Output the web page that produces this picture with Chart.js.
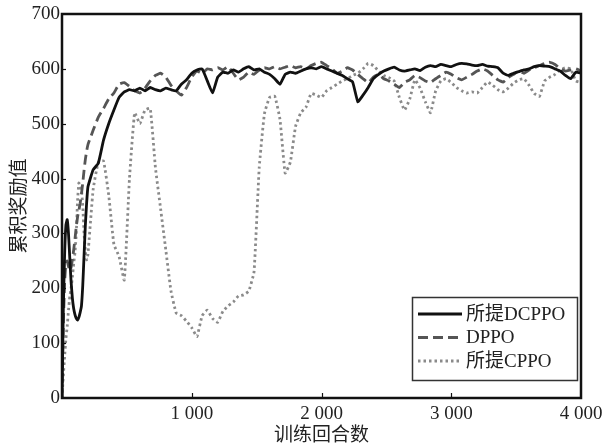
<!DOCTYPE html>
<html>
<head>
<meta charset="utf-8">
<script src="https://cdn.jsdelivr.net/npm/chart.js@4/dist/chart.umd.min.js"></script>
<style>
  html, body { margin: 0; padding: 0; background: #fff; }
  #wrap { width: 608px; height: 445px; position: relative; }
</style>
</head>
<body>
<div id="wrap"><canvas id="reward-chart"></canvas></div>
<script>
// episode grid: fine steps at the start, then every 40 episodes
const episodes = [
  0, 10, 20, 30, 40, 50, 60, 70, 80, 90, 100, 110, 120, 130, 140, 150, 160, 170, 180, 190, 200,
  240, 280, 320, 360, 400, 440, 480, 520, 560, 600, 640, 680, 720, 760, 800, 840, 880, 920, 960,
  1000, 1040, 1080, 1120, 1160, 1200, 1240, 1280, 1320, 1360, 1400, 1440, 1480, 1520, 1560, 1600,
  1640, 1680, 1720, 1760, 1800, 1840, 1880, 1920, 1960, 2000, 2040, 2080, 2120, 2160, 2200, 2240,
  2280, 2320, 2360, 2400, 2440, 2480, 2520, 2560, 2600, 2640, 2680, 2720, 2760, 2800, 2840, 2880,
  2920, 2960, 3000, 3040, 3080, 3120, 3160, 3200, 3240, 3280, 3320, 3360, 3400, 3440, 3480, 3520,
  3560, 3600, 3640, 3680, 3720, 3760, 3800, 3840, 3880, 3920, 3960, 4000
];

const rewardDCPPO = [
  0, 160, 260, 315, 325, 300, 255, 212, 182, 163, 152, 145, 142, 147, 156, 168, 205, 260, 315, 356, 385,
  416, 428, 470, 500, 525, 548, 558, 562, 560, 565, 560, 566, 562, 560, 565, 562, 560, 572, 580,
  592, 598, 600, 578, 556, 585, 594, 592, 598, 594, 600, 604, 598, 600, 594, 590,
  582, 572, 590, 594, 592, 596, 600, 602, 600, 604, 600, 596, 592, 588, 582, 576,
  540, 552, 566, 582, 590, 596, 600, 603, 598, 596, 598, 600, 597, 603, 606, 604,
  608, 606, 604, 608, 610, 609, 607, 606, 608, 605, 604, 602, 592, 588, 592, 595,
  598, 600, 604, 606, 605, 604, 600, 596, 588, 582, 594, 592
];

const rewardDPPO = [
  0, 130, 210, 245, 250, 240, 232, 238, 252, 270, 290, 312, 330, 342, 355, 372, 392, 415, 435, 450, 462,
  488, 512, 528, 545, 556, 572, 575, 568, 560, 556, 565, 578, 588, 592, 585, 570, 560, 552, 566,
  585, 596, 592, 600, 598, 602, 598, 604, 592, 580, 585, 594, 590, 598, 602, 600,
  604, 600, 603, 606, 602, 604, 600, 606, 610, 612, 606, 600, 592, 596, 602, 598,
  590, 582, 575, 585, 590, 582, 578, 572, 566, 575, 580, 588, 584, 578, 575, 582,
  588, 594, 590, 584, 580, 585, 590, 596, 600, 596, 588, 580, 576, 584, 590, 596,
  592, 598, 602, 606, 610, 612, 608, 600, 596, 598, 600, 596
];

const rewardCPPO = [
  0, 40, 75, 108, 130, 160, 185, 200, 220, 245, 265, 300, 360, 392, 388, 380, 350, 300, 268, 252, 262,
  380, 430, 432, 370, 280, 258, 215, 400, 520, 500, 525, 528, 420, 345, 270, 195, 155, 150, 140,
  128, 112, 150, 160, 145, 138, 158, 168, 175, 186, 188, 195, 230, 420, 518, 548,
  550, 508, 410, 430, 495, 520, 530, 555, 552, 548, 560, 566, 572, 578, 582, 588,
  592, 600, 610, 606, 596, 588, 584, 578, 548, 525, 545, 580, 565, 540, 520, 560,
  578, 582, 575, 566, 560, 556, 558, 556, 566, 576, 570, 562, 558, 565, 574, 580,
  582, 570, 555, 550, 578, 585, 590, 598, 602, 600, 578, 575
];

const seriesNames = ["所提DCPPO", "DPPO", "所提CPPO"];
const xTicks = [0, 1000, 2000, 3000, 4000];
const yTicks = [0, 100, 200, 300, 400, 500, 600, 700];

(() => {
  "use strict";

  const SERIF = "'Liberation Serif', 'Times New Roman', 'Noto Sans CJK SC', serif";
  const CJK = "'Noto Sans CJK SC', 'Liberation Serif', serif";

  function toPoints(values) {
    return values.map((v, i) => ({ x: episodes[i], y: v }));
  }

  function fmtThousands(v) {
    return String(v).replace(/\B(?=(\d{3})+(?!\d))/g, " ");
  }

  // frame, inward tick marks and boxed legend inside the plot
  const framePlugin = {
    id: "frame",
    afterDraw(chart) {
      const { ctx, chartArea: a, scales } = chart;
      ctx.save();
      ctx.strokeStyle = "#111";
      ctx.lineWidth = 1.2;
      for (const v of xTicks.slice(1, -1)) {
        const px = Math.round(scales.x.getPixelForValue(v)) + 0.5;
        ctx.beginPath();
        ctx.moveTo(px, a.bottom);
        ctx.lineTo(px, a.bottom - 5);
        ctx.stroke();
      }
      for (const v of yTicks.slice(1, -1)) {
        const py = Math.round(scales.y.getPixelForValue(v)) + 0.5;
        ctx.beginPath();
        ctx.moveTo(a.left, py);
        ctx.lineTo(a.left + 4, py);
        ctx.stroke();
      }

      ctx.lineWidth = 2.5;
      ctx.strokeStyle = "#111";
      ctx.strokeRect(a.left, a.top, a.right - a.left, a.bottom - a.top);

      // legend
      const lx = 412, ly = 297, lw = 165, lh = 83;
      ctx.fillStyle = "#fff";
      ctx.fillRect(lx, ly, lw, lh);
      ctx.lineWidth = 1.5;
      ctx.strokeStyle = "#333";
      ctx.strokeRect(lx + 0.5, ly + 0.5, lw, lh);
      ctx.font = "19px " + SERIF;
      ctx.textBaseline = "middle";
      chart.data.datasets.forEach((ds, i) => {
        const y = ly + 17 + i * 23.5;
        ctx.beginPath();
        ctx.setLineDash(ds.borderDash || []);
        ctx.strokeStyle = ds.borderColor;
        ctx.lineWidth = ds.borderWidth;
        ctx.moveTo(418, y);
        ctx.lineTo(462, y);
        ctx.stroke();
        ctx.setLineDash([]);
        ctx.fillStyle = "#222";
        ctx.fillText(ds.label, 466, y + 1);
      });
      ctx.restore();
    }
  };

  const canvas = document.getElementById("reward-chart");
  new Chart(canvas, {
    type: "line",
    data: {
      datasets: [
        {
          label: seriesNames[0],
          data: toPoints(rewardDCPPO),
          borderColor: "#111",
          borderWidth: 2.8,
          order: 1
        },
        {
          label: seriesNames[1],
          data: toPoints(rewardDPPO),
          borderColor: "#555",
          borderWidth: 2.8,
          borderDash: [10, 5],
          order: 2
        },
        {
          label: seriesNames[2],
          data: toPoints(rewardCPPO),
          borderColor: "#8a8a8a",
          borderWidth: 2.8,
          borderDash: [2.5, 3],
          order: 3
        }
      ]
    },
    options: {
      responsive: true,
      maintainAspectRatio: false,
      animation: false,
      layout: { padding: { left: 0, right: 27, top: 14, bottom: 0 } },
      elements: { point: { radius: 0 }, line: { tension: 0.12 } },
      plugins: { legend: { display: false }, tooltip: { enabled: false } },
      scales: {
        x: {
          type: "linear",
          min: 0,
          max: 4000,
          grid: { display: false, drawTicks: false, tickLength: 0 },
          border: { display: false },
          afterBuildTicks: s => { s.ticks = xTicks.map(v => ({ value: v })); },
          afterFit: s => { s.height = 47; },
          ticks: {
            color: "#222",
            padding: 5,
            maxRotation: 0,
            font: { family: SERIF, size: 19 },
            callback: v => (v === 0 ? "" : fmtThousands(v))
          },
          title: {
            display: true,
            text: "训练回合数",
            color: "#222",
            padding: { top: 0, bottom: 0 },
            font: { family: CJK, size: 19 }
          }
        },
        y: {
          min: 0,
          max: 700,
          grid: { display: false, drawTicks: false, tickLength: 0 },
          border: { display: false },
          afterBuildTicks: s => { s.ticks = yTicks.map(v => ({ value: v })); },
          afterFit: s => { s.width = 62; },
          ticks: {
            color: "#222",
            padding: 2,
            font: { family: SERIF, size: 19 }
          },
          title: {
            display: true,
            text: "累积奖励值",
            color: "#222",
            padding: { top: 6, bottom: 0 },
            font: { family: CJK, size: 19 }
          }
        }
      }
    },
    plugins: [framePlugin]
  });
})();
</script>
</body>
</html>
